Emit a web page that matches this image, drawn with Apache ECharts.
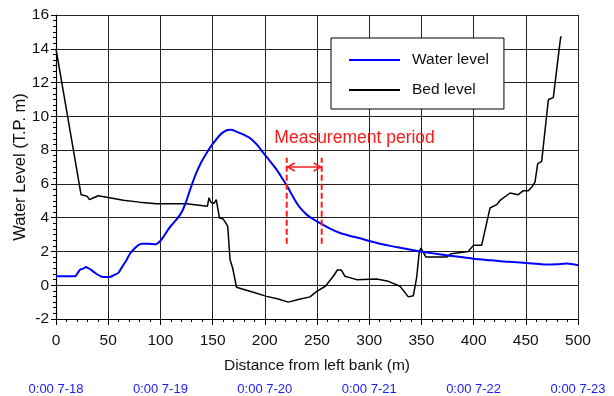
<!DOCTYPE html>
<html>
<head>
<meta charset="utf-8">
<style>
  html, body { margin: 0; padding: 0; background: #fff; }
  #chart { width: 614px; height: 396px; }
</style>
<script src="https://cdn.jsdelivr.net/npm/echarts@6/dist/echarts.min.js"></script>
</head>
<body>
<div id="chart"></div>
<script>
// Cross-section profile: [distance from left bank (m), elevation (T.P. m)]
const waterLevel = [
  [0, 0.53], [18.2, 0.53], [21, 0.75], [23, 0.92], [26, 0.98], [28.7, 1.08], [30.5, 1.02],
  [32.6, 0.96], [37.4, 0.73], [43.8, 0.5], [48, 0.48], [51.7, 0.49], [55, 0.58],
  [59.7, 0.73], [63, 1.05], [67.7, 1.51], [71, 1.88], [75.7, 2.2], [79, 2.38],
  [82, 2.46], [88, 2.46], [95.4, 2.43], [99.6, 2.6], [103.5, 2.92], [107.2, 3.28],
  [111, 3.58], [115.2, 3.88], [118.3, 4.12], [121.5, 4.47], [124.7, 4.96], [127.9, 5.55],
  [130.4, 6.0], [134.2, 6.62], [139, 7.27], [145.2, 7.92], [150, 8.35], [156.4, 8.85],
  [160, 9.05], [164.3, 9.19], [168, 9.2], [172.2, 9.11], [176.2, 9.01], [181, 8.88],
  [185.8, 8.72], [192, 8.35], [198.6, 7.83], [205, 7.35], [211.3, 6.84], [216, 6.4],
  [221.6, 5.85], [226, 5.35], [230.5, 4.87], [235, 4.5], [240.1, 4.18], [247, 3.88],
  [254.5, 3.63], [262, 3.36], [272, 3.09], [281, 2.93], [291.2, 2.78], [300, 2.62],
  [310.3, 2.46], [320, 2.33], [329.5, 2.22], [340, 2.1], [348.7, 2.0], [360, 1.9],
  [377.4, 1.75], [390, 1.65], [399.7, 1.57], [412, 1.5], [425.3, 1.42], [438, 1.37],
  [450.9, 1.32], [460, 1.27], [470, 1.22], [480, 1.24], [489.1, 1.28], [495, 1.24],
  [500, 1.18]
];

const bedLevel = [
  [0, 14.0], [24, 5.36], [28, 5.3], [30, 5.26], [32, 5.07], [36, 5.18], [40.5, 5.3],
  [50, 5.2], [64.5, 5.03], [80, 4.92], [96.4, 4.83], [125, 4.83], [145, 4.67],
  [146.5, 5.17], [148.6, 4.9], [151.5, 4.85], [153.5, 5.07], [154.6, 5.1], [156.6, 3.98],
  [159.9, 3.93], [162, 3.75], [164.5, 3.49], [166.7, 1.51], [169.2, 1.02], [172.9, -0.12],
  [180, -0.25], [189, -0.42], [201.7, -0.66], [212, -0.8], [222.5, -1.0], [232, -0.85],
  [243.3, -0.69], [249.7, -0.36], [258, -0.06], [265.6, 0.53], [269.5, 0.9],
  [273.3, 0.9], [276.8, 0.53], [288, 0.33], [307.2, 0.37], [318.3, 0.23],
  [329.5, -0.06], [337.5, -0.69], [342.3, -0.62], [345.4, 0.43], [348, 2.0],
  [349.6, 2.2], [354.4, 1.67], [374.2, 1.67], [378.8, 1.87], [394.9, 2.0],
  [399.7, 2.36], [407.7, 2.36], [415.7, 4.57], [422.1, 4.77], [425.3, 5.02],
  [434.9, 5.46], [442.8, 5.36], [447.6, 5.6], [452.4, 5.6], [456.2, 5.85],
  [458.8, 6.1], [461.4, 7.2], [465.2, 7.33], [471.6, 10.98], [476.4, 11.12],
  [481.2, 13.59], [482.1, 13.65], [483.4, 14.69], [484.4, 14.69]
];

// Secondary (time) labels shown under the distance axis, one per 100 m
const timeTickValues = [0, 100, 200, 300, 400, 500];
const timeTickLabels = ['0:00 7-18', '0:00 7-19', '0:00 7-20', '0:00 7-21', '0:00 7-22', '0:00 7-23'];

// Measurement period bracket (distance range and vertical extent, data units)
const periodStart = 221;
const periodEnd = 254.5;
const periodLow = 2.45;
const periodHigh = 7.55;
const periodArrowLevel = 7.0;
const periodLabel = 'Measurement period';
const periodLabelPos = [286, 8.73];

const FONT = '"Liberation Sans", Arial, sans-serif';
const RED = '#ff1a1a';

const chart = echarts.init(document.getElementById('chart'), null, { renderer: 'canvas' });

function renderPeriod(params, api) {
  const a1 = api.coord([periodStart, periodLow]);
  const a2 = api.coord([periodStart, periodHigh]);
  const b1 = api.coord([periodEnd, periodLow]);
  const b2 = api.coord([periodEnd, periodHigh]);
  const l = api.coord([periodStart, periodArrowLevel]);
  const r = api.coord([periodEnd, periodArrowLevel]);
  const t = api.coord(periodLabelPos);
  const dashStyle = { stroke: RED, lineWidth: 2, lineDash: [6, 3], fill: null };
  const arrowStyle = { stroke: RED, lineWidth: 1.5, fill: null };
  return {
    type: 'group',
    children: [
      { type: 'line', shape: { x1: a1[0], y1: a1[1], x2: a2[0], y2: a2[1] }, style: dashStyle },
      { type: 'line', shape: { x1: b1[0], y1: b1[1], x2: b2[0], y2: b2[1] }, style: dashStyle },
      { type: 'line', shape: { x1: l[0] + 1, y1: l[1], x2: r[0] - 1, y2: r[1] }, style: arrowStyle },
      { type: 'polyline', shape: { points: [[l[0] + 8, l[1] - 4], [l[0] + 1, l[1]], [l[0] + 8, l[1] + 4]] }, style: arrowStyle },
      { type: 'polyline', shape: { points: [[r[0] - 8, r[1] - 4], [r[0] - 1, r[1]], [r[0] - 8, r[1] + 4]] }, style: arrowStyle },
      { type: 'text', x: t[0], y: t[1], style: { text: periodLabel, fill: RED, font: '17.5px ' + FONT, align: 'center', verticalAlign: 'middle' } }
    ]
  };
}

const option = {
  animation: false,
  backgroundColor: '#ffffff',
  grid: { left: 56, right: 36, top: 15, bottom: 77, containLabel: false, outerBoundsMode: 'none' },
  legend: {
    data: ['Water level', 'Bed level'],
    orient: 'vertical',
    left: 331,
    top: 38,
    itemWidth: 51,
    itemHeight: 14,
    itemGap: 14,
    padding: [14, 15, 11, 17],
    borderColor: '#000',
    borderWidth: 1,
    backgroundColor: '#fff',
    borderRadius: 0,
    itemStyle: { opacity: 0 },
    textStyle: { fontFamily: FONT, fontSize: 15.5, color: '#111', padding: [0, 0, 0, 7] }
  },
  xAxis: [
    {
      type: 'value',
      min: 0, max: 500, interval: 50,
      position: 'bottom',
      name: 'Distance from left bank (m)',
      nameLocation: 'middle',
      nameGap: 39,
      nameMoveOverlap: false,
      nameTextStyle: { fontFamily: FONT, fontSize: 15.5, color: '#111' },
      axisLine: { show: true, onZero: false, lineStyle: { color: '#000', width: 1.2 } },
      axisTick: { show: true, inside: false, length: 6, lineStyle: { color: '#000' } },
      minorTick: { show: true, splitNumber: 5, length: 3, lineStyle: { color: '#000' } },
      axisLabel: { fontFamily: FONT, fontSize: 15.5, color: '#111', margin: 14 },
      splitLine: { show: true, lineStyle: { color: '#222', width: 1 } }
    },
    {
      type: 'value',
      min: 0, max: 500, interval: 100,
      position: 'bottom',
      offset: 56,
      axisLine: { show: false },
      axisTick: { show: false },
      splitLine: { show: false },
      axisLabel: {
        fontFamily: FONT, fontSize: 13, color: '#1a1aff', margin: 8,
        formatter: function (v) {
          const i = timeTickValues.indexOf(v);
          return i >= 0 ? timeTickLabels[i] : '';
        }
      }
    }
  ],
  yAxis: {
    type: 'value',
    min: -2, max: 16, interval: 2,
    name: 'Water Level (T.P. m)',
    nameLocation: 'middle',
    nameGap: 27,
    nameRotate: 90,
    nameMoveOverlap: false,
    nameTextStyle: { fontFamily: FONT, fontSize: 16.5, color: '#111' },
    axisLine: { show: true, onZero: false, lineStyle: { color: '#000', width: 1.2 } },
    axisTick: { show: true, inside: false, length: 5, lineStyle: { color: '#000' } },
    minorTick: { show: true, splitNumber: 6, length: 3, lineStyle: { color: '#000' } },
    axisLabel: { fontFamily: FONT, fontSize: 15.5, color: '#111', margin: 7 },
    splitLine: { show: true, lineStyle: { color: '#222', width: 1 } }
  },
  series: [
    {
      name: 'Water level',
      type: 'line',
      data: waterLevel,
      symbol: 'none',
      smooth: 0.25,
      lineStyle: { color: '#0000ff', width: 2 },
      itemStyle: { color: '#0000ff' },
      z: 4
    },
    {
      name: 'Bed level',
      type: 'line',
      data: bedLevel,
      symbol: 'none',
      lineStyle: { color: '#000', width: 1.5 },
      itemStyle: { color: '#000' },
      z: 3
    },
    {
      name: 'period',
      type: 'custom',
      data: [[periodStart, periodArrowLevel]],
      renderItem: renderPeriod,
      silent: true,
      z: 5
    }
  ]
};

chart.setOption(option);
</script>
</body>
</html>
